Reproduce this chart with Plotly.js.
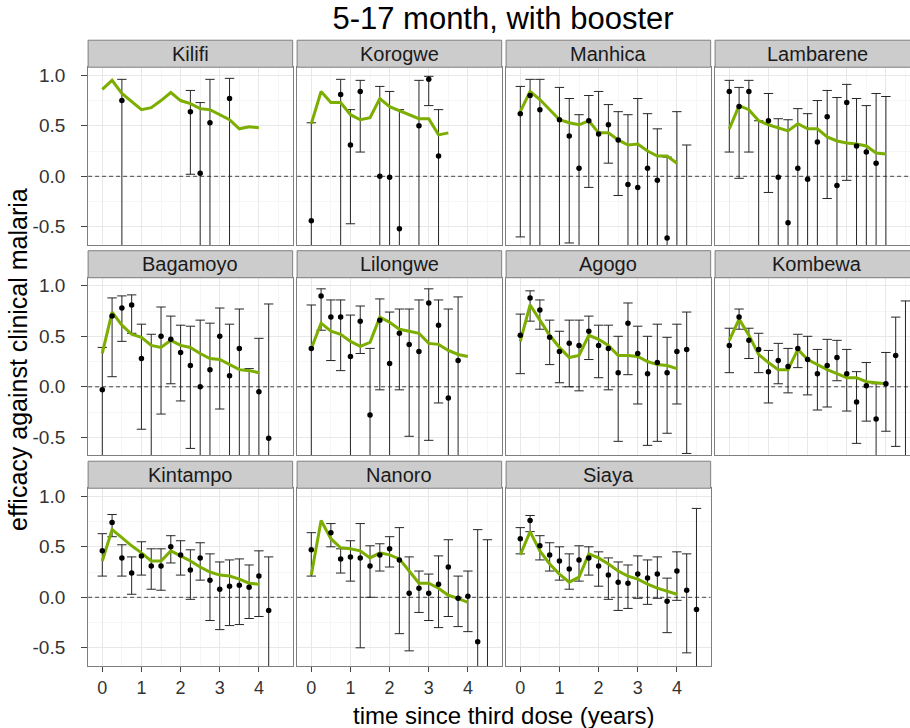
<!DOCTYPE html>
<html><head><meta charset="utf-8">
<script src="https://cdn.plot.ly/plotly-3.0.1.min.js"></script>
<style>html,body{margin:0;padding:0;overflow:hidden;background:#fff}#chart{width:920px;height:728px}</style>
</head><body><div id="chart"></div>
<script>
const chartTitle = "5-17 month, with booster";
const xTitle = "time since third dose (years)";
const yTitle = "efficacy against clinical malaria";
const sites = ["Kilifi","Korogwe","Manhica","Lambarene","Bagamoyo","Lilongwe","Agogo","Kombewa","Kintampo","Nanoro","Siaya"];
const years = [0,0.25,0.5,0.75,1,1.25,1.5,1.75,2,2.25,2.5,2.75,3,3.25,3.5,3.75,4,4.25,4.5];
const yTickVals = [-0.5,0,0.5,1];
const yTickText = ["-0.5","0.0","0.5","1.0"];
const xTickVals = [0,1,2,3,4];
const xTickText = ["0","1","2","3","4"];
const refLevel = 0; // dashed reference line (no efficacy)
const N = null, C = -1; // C: limit or point below the visible range

const kilifiPt  = [N,N,0.75,N,N,N,N,N,N,0.64,0.03,0.53,N,0.77,N,N,N,N,N];
const kilifiLo  = [N,N,C,N,N,N,N,N,N,0.02,C,C,N,C,N,N,N,N,N];
const kilifiHi  = [N,N,0.96,N,N,N,N,N,N,0.85,0.73,0.96,N,0.97,N,N,N,N,N];
const kilifiFit = [0.86,0.95,0.82,0.74,0.66,0.68,0.75,0.83,0.75,0.72,0.67,0.66,0.61,0.56,0.47,0.49,0.48];

const korogwePt  = [-0.44,N,N,0.81,0.31,0.84,N,0.00,-0.01,-0.52,N,0.50,0.96,0.20,N,N,N,N,N];
const korogweLo  = [C,N,N,C,-0.47,0.24,N,C,C,C,N,C,0.70,C,N,N,N,N,N];
const korogweHi  = [0.53,N,N,0.96,0.66,0.95,N,0.89,0.84,0.66,N,0.95,0.99,0.66,N,N,N,N,N];
const korogweFit = [0.52,0.84,0.73,0.73,0.61,0.56,0.58,0.77,0.69,0.65,0.61,0.57,0.57,0.41,0.43];

const manhicaPt  = [0.62,0.80,0.66,N,0.56,0.40,0.08,0.55,0.42,0.51,0.36,-0.08,-0.11,0.08,-0.04,-0.61,C,C,N];
const manhicaLo  = [-0.60,C,C,N,C,-0.66,C,-0.11,C,0.13,-0.19,C,C,C,C,C,C,C,N];
const manhicaHi  = [0.89,0.96,0.96,N,0.88,0.77,0.61,0.80,0.84,0.71,0.64,0.61,0.77,0.62,0.47,0.19,0.64,0.31,N];
const manhicaFit = [0.64,0.84,0.76,0.66,0.56,0.53,0.51,0.55,0.43,0.43,0.36,0.31,0.32,0.25,0.20,0.20,0.13];

const lambarenePt  = [0.84,0.69,0.84,C,0.55,-0.01,-0.46,0.08,-0.03,0.34,0.59,-0.09,0.73,0.30,0.24,0.13,C,N,N];
const lambareneLo  = [0.24,-0.02,0.24,C,-0.16,C,C,C,C,C,-0.22,C,-0.04,C,C,C,C,N,N];
const lambareneHi  = [0.95,0.88,0.95,0.55,0.82,0.57,0.56,0.67,0.62,0.75,0.85,0.78,0.91,0.77,0.70,0.82,0.79,N,N];
const lambareneFit = [0.47,0.70,0.66,0.55,0.51,0.48,0.45,0.52,0.47,0.47,0.39,0.35,0.33,0.32,0.30,0.23,0.22];

const bagamoyoPt  = [-0.03,0.70,0.78,0.81,0.28,C,0.50,0.47,0.34,0.21,0.00,0.17,0.50,0.11,0.38,C,-0.05,-0.51,N];
const bagamoyoLo  = [C,0.10,0.45,0.53,-0.42,C,-0.27,0.03,-0.14,-0.61,C,C,-0.22,C,C,C,C,C,N];
const bagamoyoHi  = [0.39,0.88,0.90,0.91,0.62,0.52,0.79,0.70,0.61,0.60,0.66,0.63,0.78,0.62,0.77,0.18,0.48,0.82,N];
const bagamoyoFit = [0.33,0.74,0.61,0.52,0.49,0.41,0.39,0.46,0.41,0.39,0.33,0.28,0.27,0.22,0.17,0.16,0.14];

const lilongwePt  = [0.38,0.90,0.69,0.69,0.30,0.65,-0.28,0.66,0.23,0.53,0.42,0.35,0.83,0.61,-0.11,0.26,N,N,N];
const lilongweLo  = [C,0.56,0.26,0.16,C,0.33,C,-0.03,C,-0.03,-0.49,C,-0.53,-0.16,C,C,N,N,N];
const lilongweHi  = [0.81,0.97,0.86,0.86,0.71,0.80,0.38,0.87,0.74,0.77,0.77,0.86,0.97,0.86,0.77,0.89,N,N,N];
const lilongweFit = [0.38,0.63,0.55,0.52,0.45,0.40,0.44,0.69,0.64,0.57,0.55,0.53,0.43,0.42,0.36,0.32,0.30];

const agogoPt  = [0.51,0.88,0.76,0.49,0.35,0.43,0.41,0.55,0.41,0.38,0.14,0.63,0.33,0.13,0.24,0.14,0.35,0.37,N];
const agogoLo  = [0.13,0.65,0.57,0.22,0.04,0.00,-0.04,0.27,0.09,-0.03,-0.54,0.12,-0.17,-0.58,-0.54,-0.46,-0.17,-0.66,N];
const agogoHi  = [0.72,0.95,0.86,0.66,0.55,0.66,0.66,0.70,0.61,0.61,0.50,0.83,0.60,0.50,0.62,0.49,0.62,0.74,N];
const agogoFit = [0.45,0.81,0.66,0.51,0.39,0.29,0.31,0.51,0.47,0.41,0.31,0.31,0.30,0.25,0.22,0.21,0.18];

const kombewaPt  = [0.41,0.69,0.46,0.37,0.15,0.26,0.20,0.38,0.27,0.13,0.21,0.29,0.13,-0.15,0.01,-0.32,0.03,0.31,C];
const kombewaLo  = [0.14,0.57,0.28,0.14,-0.16,0.03,-0.06,0.19,-0.08,-0.23,-0.20,0.06,-0.24,-0.56,-0.34,C,-0.44,-0.59,C];
const kombewaHi  = [0.58,0.77,0.58,0.53,0.36,0.43,0.38,0.52,0.50,0.37,0.47,0.46,0.37,0.15,0.24,0.03,0.34,0.69,0.85];
const kombewaFit = [0.46,0.67,0.51,0.32,0.24,0.17,0.17,0.37,0.27,0.22,0.17,0.13,0.09,0.09,0.05,0.04,0.03];

const kintampoPt  = [0.46,0.74,0.39,0.24,0.41,0.31,0.31,0.50,0.42,0.27,0.39,0.17,0.08,0.11,0.12,0.10,0.21,-0.13,N];
const kintampoLo  = [0.21,0.60,0.21,0.03,0.22,0.08,0.07,0.34,0.22,-0.02,0.17,-0.23,-0.32,-0.28,-0.27,-0.21,-0.19,C,N];
const kintampoHi  = [0.63,0.82,0.52,0.40,0.55,0.48,0.48,0.61,0.56,0.47,0.54,0.43,0.35,0.37,0.38,0.32,0.46,0.40,N];
const kintampoFit = [0.36,0.67,0.59,0.51,0.44,0.36,0.36,0.46,0.41,0.36,0.30,0.25,0.22,0.21,0.18,0.14,0.13];

const nanoroPt  = [0.47,N,0.64,0.38,0.40,0.39,0.31,0.42,0.48,0.37,0.04,0.09,0.04,0.13,0.30,-0.01,0.01,-0.44,C];
const nanoroLo  = [0.21,N,0.50,0.24,0.16,-0.50,0.00,0.26,0.30,-0.36,-0.53,-0.15,-0.23,-0.30,-0.19,-0.29,-0.34,C,C];
const nanoroHi  = [0.64,N,0.73,0.48,0.56,0.73,0.51,0.53,0.60,0.69,0.40,0.26,0.23,0.41,0.57,0.21,0.26,0.67,0.57];
const nanoroFit = [0.22,0.76,0.58,0.49,0.48,0.46,0.39,0.44,0.42,0.38,0.26,0.14,0.14,0.09,0.02,-0.01,-0.05];

const siayaPt  = [0.58,0.76,0.51,0.42,0.36,0.28,0.37,0.39,0.31,0.22,0.15,0.14,0.23,0.19,0.23,-0.04,0.26,0.07,-0.12];
const siayaLo  = [0.43,0.65,0.37,0.26,0.17,0.08,0.16,0.22,0.11,-0.02,-0.13,-0.11,-0.01,-0.07,-0.01,-0.35,-0.03,-0.55,C];
const siayaHi  = [0.69,0.81,0.61,0.54,0.50,0.43,0.51,0.50,0.45,0.39,0.35,0.32,0.41,0.37,0.40,0.19,0.45,0.43,0.88];
const siayaFit = [0.42,0.65,0.46,0.33,0.23,0.15,0.20,0.43,0.39,0.33,0.26,0.21,0.18,0.13,0.09,0.06,0.03];

const sitePt  = [kilifiPt,korogwePt,manhicaPt,lambarenePt,bagamoyoPt,lilongwePt,agogoPt,kombewaPt,kintampoPt,nanoroPt,siayaPt];
const siteLo  = [kilifiLo,korogweLo,manhicaLo,lambareneLo,bagamoyoLo,lilongweLo,agogoLo,kombewaLo,kintampoLo,nanoroLo,siayaLo];
const siteHi  = [kilifiHi,korogweHi,manhicaHi,lambareneHi,bagamoyoHi,lilongweHi,agogoHi,kombewaHi,kintampoHi,nanoroHi,siayaHi];
const siteFit = [kilifiFit,korogweFit,manhicaFit,lambareneFit,bagamoyoFit,lilongweFit,agogoFit,kombewaFit,kintampoFit,nanoroFit,siayaFit];

// ---- layout geometry (pixels) ----
const W = 920, H = 728;
const xZeroPx = 102.3, colStep = 209, pxPerYear = 39.15;
const xRange = [-0.3625, 4.8625];
const yZeroPx = 176.3, rowStep = 210.5, pxPerUnit = 101;
const yRange = [-0.68, 1.08];
const stripH = 27;
const capHalf = 0.12;
const FONT = "Liberation Sans, Arial, sans-serif";

const traces = [], shapes = [], annotations = [];
const layout = {
  width: W, height: H, margin: {l:0, r:0, t:0, b:0, pad:0},
  paper_bgcolor: "#fff", plot_bgcolor: "#fff", showlegend: false,
  font: {family: FONT, color: "#1a1a1a"},
  title: {text: chartTitle, x: 503/W, y: 1 - 18/H, xref: "container", yref: "container",
          xanchor: "center", yanchor: "middle", font: {family: FONT, size: 31, color: "#000"}},
  shapes: shapes, annotations: annotations
};

sites.forEach((name, k) => {
  const row = Math.floor(k / 4), col = k % 4;
  const n = k === 0 ? "" : String(k + 1);
  const xa = "x" + n, ya = "y" + n;
  const left = xZeroPx + col * colStep + xRange[0] * pxPerYear;
  const right = left + (xRange[1] - xRange[0]) * pxPerYear;
  const top = yZeroPx + row * rowStep - yRange[1] * pxPerUnit;
  const bottom = top + (yRange[1] - yRange[0]) * pxPerUnit;
  const isLeft = col === 0;

  layout["xaxis" + n] = {
    domain: [left / W, right / W], range: xRange, anchor: ya, fixedrange: true,
    tickmode: "array", tickvals: xTickVals, ticktext: xTickText,
    showticklabels: row === 2, ticks: row === 2 ? "outside" : "", ticklen: 5, tickcolor: "#444", tickwidth: 1,
    tickfont: {family: FONT, size: 18, color: "#333"},
    showgrid: true, gridcolor: "#E8E8E8", gridwidth: 1,
    minor: {tickmode: "linear", tick0: 0, dtick: 0.5, showgrid: true, gridcolor: "#F6F6F6", gridwidth: 1, ticks: ""},
    zeroline: false, showline: true, mirror: true, linecolor: "#7F7F7F", linewidth: 1
  };
  layout["yaxis" + n] = {
    domain: [(H - bottom) / H, (H - top) / H], range: yRange, anchor: xa, fixedrange: true,
    tickmode: "array", tickvals: yTickVals, ticktext: yTickText,
    showticklabels: isLeft, ticks: isLeft ? "outside" : "", ticklen: 6, tickcolor: "#444", tickwidth: 1,
    ticklabelstandoff: 12,
    tickfont: {family: FONT, size: 19, color: "#333"},
    showgrid: true, gridcolor: "#E8E8E8", gridwidth: 1,
    minor: {tickmode: "linear", tick0: 0, dtick: 0.25, showgrid: true, gridcolor: "#F6F6F6", gridwidth: 1, ticks: ""},
    zeroline: false, showline: true, mirror: true, linecolor: "#7F7F7F", linewidth: 1
  };

  // strip
  shapes.push({type: "rect", xref: "paper", yref: "paper",
    x0: left / W, x1: right / W, y0: (H - top) / H, y1: (H - (top - stripH)) / H,
    fillcolor: "#CCCCCC", line: {color: "#7F7F7F", width: 1}, layer: "above"});
  annotations.push({text: name, xref: "paper", yref: "paper",
    x: (left + right) / 2 / W, y: (H - (top - stripH / 2)) / H, xanchor: "center", yanchor: "middle",
    showarrow: false, font: {family: FONT, size: 20, color: "#1a1a1a"}});

  // dashed reference line at zero efficacy
  traces.push({type: "scatter", mode: "lines", x: xRange, y: [refLevel, refLevel], xaxis: xa, yaxis: ya,
    line: {color: "#444", width: 1, dash: "4px,3px"}, hoverinfo: "skip"});

  // error bars built from the lo/hi arrays
  const pt = sitePt[k], lo = siteLo[k], hi = siteHi[k], fit = siteFit[k];
  const ex = [], ey = [];
  years.forEach((x, i) => {
    if (lo[i] === null || hi[i] === null) return;
    ex.push(x, x, null); ey.push(lo[i], hi[i], null);
    ex.push(x - capHalf, x + capHalf, null); ey.push(hi[i], hi[i], null);
    ex.push(x - capHalf, x + capHalf, null); ey.push(lo[i], lo[i], null);
  });
  traces.push({type: "scatter", mode: "lines", x: ex, y: ey, xaxis: xa, yaxis: ya,
    line: {color: "#262626", width: 1}, hoverinfo: "skip", connectgaps: false});
  traces.push({type: "scatter", mode: "lines", x: years.slice(0, fit.length), y: fit, xaxis: xa, yaxis: ya,
    line: {color: "#7CAE00", width: 3}, hoverinfo: "skip"});
  traces.push({type: "scatter", mode: "markers", x: years, y: pt, xaxis: xa, yaxis: ya,
    marker: {color: "#000", size: 5.5}, cliponaxis: true, hoverinfo: "skip"});
});

annotations.push({text: xTitle, xref: "paper", yref: "paper", x: 503 / W, y: (H - 715) / H,
  xanchor: "center", yanchor: "middle", showarrow: false, font: {family: FONT, size: 24, color: "#000"}});
annotations.push({text: yTitle, xref: "paper", yref: "paper", x: 18 / W, y: (H - 360) / H,
  xanchor: "center", yanchor: "middle", textangle: -90, showarrow: false, font: {family: FONT, size: 25, color: "#000"}});

Plotly.newPlot("chart", traces, layout, {displayModeBar: false, staticPlot: true});
</script>
</body></html>
